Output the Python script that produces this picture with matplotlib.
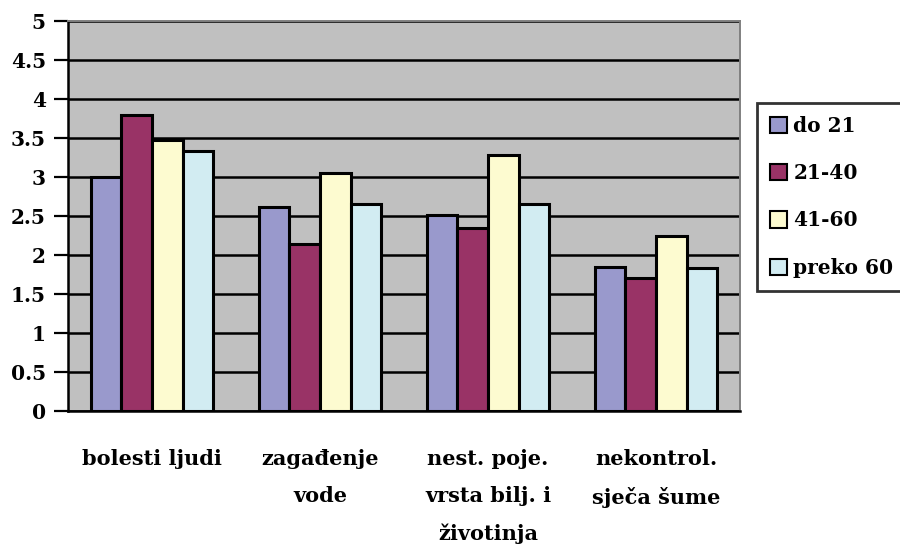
import matplotlib
matplotlib.use("Agg")
import matplotlib.pyplot as plt
import numpy as np
from matplotlib.patches import Patch

categories = ["bolesti ljudi", "zagađenje\nvode", "nest. poje.\nvrsta bilj. i\nživotinja", "nekontrol.\nsječa šume"]
series_names = ["do 21", "21-40", "41-60", "preko 60"]
do_21 = [3.00, 2.61, 2.51, 1.85]
od_21_40 = [3.80, 2.14, 2.35, 1.70]
od_41_60 = [3.48, 3.05, 3.28, 2.25]
preko_60 = [3.33, 2.66, 2.66, 1.83]
colors = ["#9999CC", "#993366", "#FDFBD0", "#D2ECF2"]
yticks = [0, 0.5, 1, 1.5, 2, 2.5, 3, 3.5, 4, 4.5, 5]
ytick_labels = ["0", "0.5", "1", "1.5", "2", "2.5", "3", "3.5", "4", "4.5", "5"]

plt.rcParams["font.family"] = ["DejaVu Serif"]
plt.rcParams["font.weight"] = "bold"

fig = plt.figure(figsize=(9, 5.53), dpi=100)
ax = fig.add_axes([68 / 900, 1 - 411 / 553, 672 / 900, 390 / 553])
ax.set_facecolor("#C0C0C0")

x = np.arange(len(categories))
w = 0.182
series = [do_21, od_21_40, od_41_60, preko_60]
for i, vals in enumerate(series):
    ax.bar(x + (i - 1.5) * w, vals, width=w, color=colors[i], edgecolor="black",
           linewidth=2.2, zorder=3, label=series_names[i])

ax.set_xlim(-0.5, len(categories) - 0.5)
ax.set_ylim(0, 5)
ax.set_yticks(yticks)
ax.set_yticklabels(ytick_labels, fontsize=14.5, fontweight="bold")
ax.yaxis.grid(True, color="black", linewidth=1.8, zorder=1)
ax.set_axisbelow(True)
ax.tick_params(axis="y", length=10, width=1.6, pad=6, direction="out")
ax.tick_params(axis="x", length=0)
ax.set_xticks(x)
ax.set_xticklabels([])

for s in ["top", "right"]:
    ax.spines[s].set_color("#808080")
    ax.spines[s].set_linewidth(1.4)
ax.spines["left"].set_color("black")
ax.spines["left"].set_linewidth(1.8)
ax.spines["bottom"].set_color("black")
ax.spines["bottom"].set_linewidth(1.8)

for xi, lab in zip(x, categories):
    ax.annotate(lab, xy=(xi, 0), xycoords=("data", "axes fraction"),
                xytext=(0, -27.5), textcoords="offset points",
                ha="center", va="top", fontsize=15, fontweight="bold",
                linespacing=2.05)

handles = [Patch(facecolor=c, edgecolor="black", linewidth=1.5) for c in colors]
leg = fig.legend(handles, series_names, loc="upper left",
                 bbox_to_anchor=(757 / 900, 1 - 103 / 553),
                 prop={"size": 14.5, "weight": "bold"},
                 frameon=True, fancybox=False, edgecolor="black",
                 handlelength=0.85, handleheight=0.85, handletextpad=0.3,
                 labelspacing=1.35, borderpad=0.65, borderaxespad=0)
leg.get_frame().set_linewidth(2)

fig.savefig("out.png", dpi=100)
